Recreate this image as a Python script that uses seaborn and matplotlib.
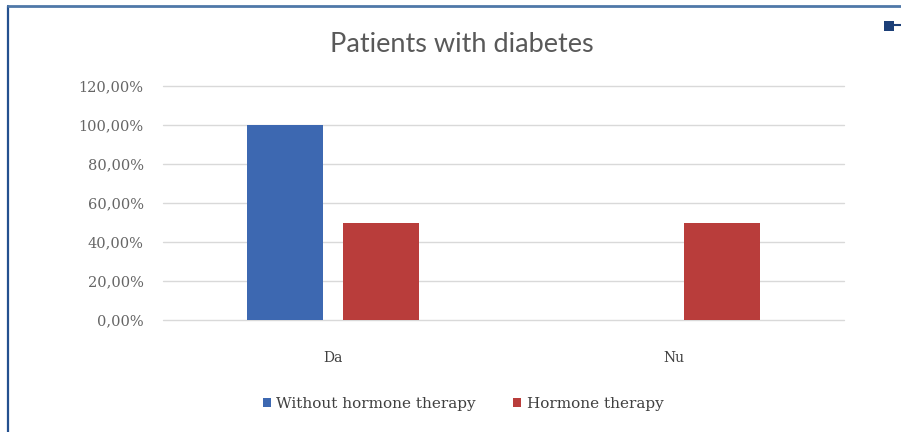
import matplotlib
matplotlib.use("Agg")
import matplotlib.pyplot as plt
from matplotlib.lines import Line2D
from matplotlib.patches import Rectangle
import seaborn as sns
import pandas as pd

# Data
categories = ["Da", "Nu"]
series_names = ["Without hormone therapy", "Hormone therapy"]
without_therapy = [100.0, 0.0]
with_therapy = [50.0, 50.0]
y_ticks = [0, 20, 40, 60, 80, 100, 120]
y_tick_labels = ["0,00%", "20,00%", "40,00%", "60,00%", "80,00%", "100,00%", "120,00%"]
title = "Patients with diabetes"

colors = ["#3d68b1", "#b93d3b"]

df = pd.DataFrame({
    "category": categories * 2,
    "series": [series_names[0]] * 2 + [series_names[1]] * 2,
    "value": without_therapy + with_therapy,
})

sns.set_theme(style="white")
plt.rcParams["font.family"] = ["DejaVu Serif"]

W, H = 901, 432
fig = plt.figure(figsize=(W / 100, H / 100), dpi=100)
fig.patch.set_facecolor("white")

ax = fig.add_axes([163 / W, 1 - 320 / H, 681 / W, 234 / H])
ax.set_facecolor("white")

sns.barplot(data=df, x="category", y="value", hue="series", order=categories,
            hue_order=series_names, palette=colors, width=0.565, gap=0.21,
            saturation=1, ax=ax, legend=False, edgecolor="none")

ax.set_xlim(-0.5, 1.5)
ax.set_ylim(0, 120)
ax.set_yticks(y_ticks)
ax.set_yticklabels(y_tick_labels)
ax.yaxis.grid(True, color="#d9d9d9", linewidth=1.0)
for gl in ax.get_ygridlines():
    gl.set_clip_on(False)
ax.set_axisbelow(True)
for s in ax.spines.values():
    s.set_visible(False)
ax.tick_params(axis="y", length=0, pad=14, labelsize=10.5, labelcolor="#666666")
ax.tick_params(axis="x", length=0, pad=22, labelsize=10, labelcolor="#404040")
ax.set_xlabel("")
ax.set_ylabel("")

# Title
fig.text(462 / W, 1 - 45 / H, title, ha="center", va="center",
         fontsize=19.5, color="#595959", family=["Lato", "DejaVu Sans"])

# Legend
handles = [Rectangle((0, 0), 1, 1, facecolor=c, edgecolor="none") for c in colors]
fig.legend(handles, series_names, loc="center", bbox_to_anchor=(463 / W, 1 - 404 / H),
           ncol=2, frameon=False, fontsize=11, handlelength=0.55, handleheight=0.55,
           handletextpad=0.35, columnspacing=2.4, labelcolor="#404040")

# Frame around the chart
fig.add_artist(Line2D([8 / W, 8 / W], [0, 1 - 6 / H], transform=fig.transFigure,
                      color="#24508f", linewidth=1.6))
fig.add_artist(Line2D([8 / W, 1], [1 - 6 / H, 1 - 6 / H], transform=fig.transFigure,
                      color="#4f78a8", linewidth=2.0))
fig.add_artist(Rectangle((884 / W, 1 - 31 / H), 10 / W, 10 / H, transform=fig.transFigure,
                         facecolor="#1c3f78", edgecolor="none"))
fig.add_artist(Line2D([894 / W, 1], [1 - 25 / H, 1 - 25 / H], transform=fig.transFigure,
                      color="#1c3f78", linewidth=1.5))

fig.savefig("out.png", dpi=100)
